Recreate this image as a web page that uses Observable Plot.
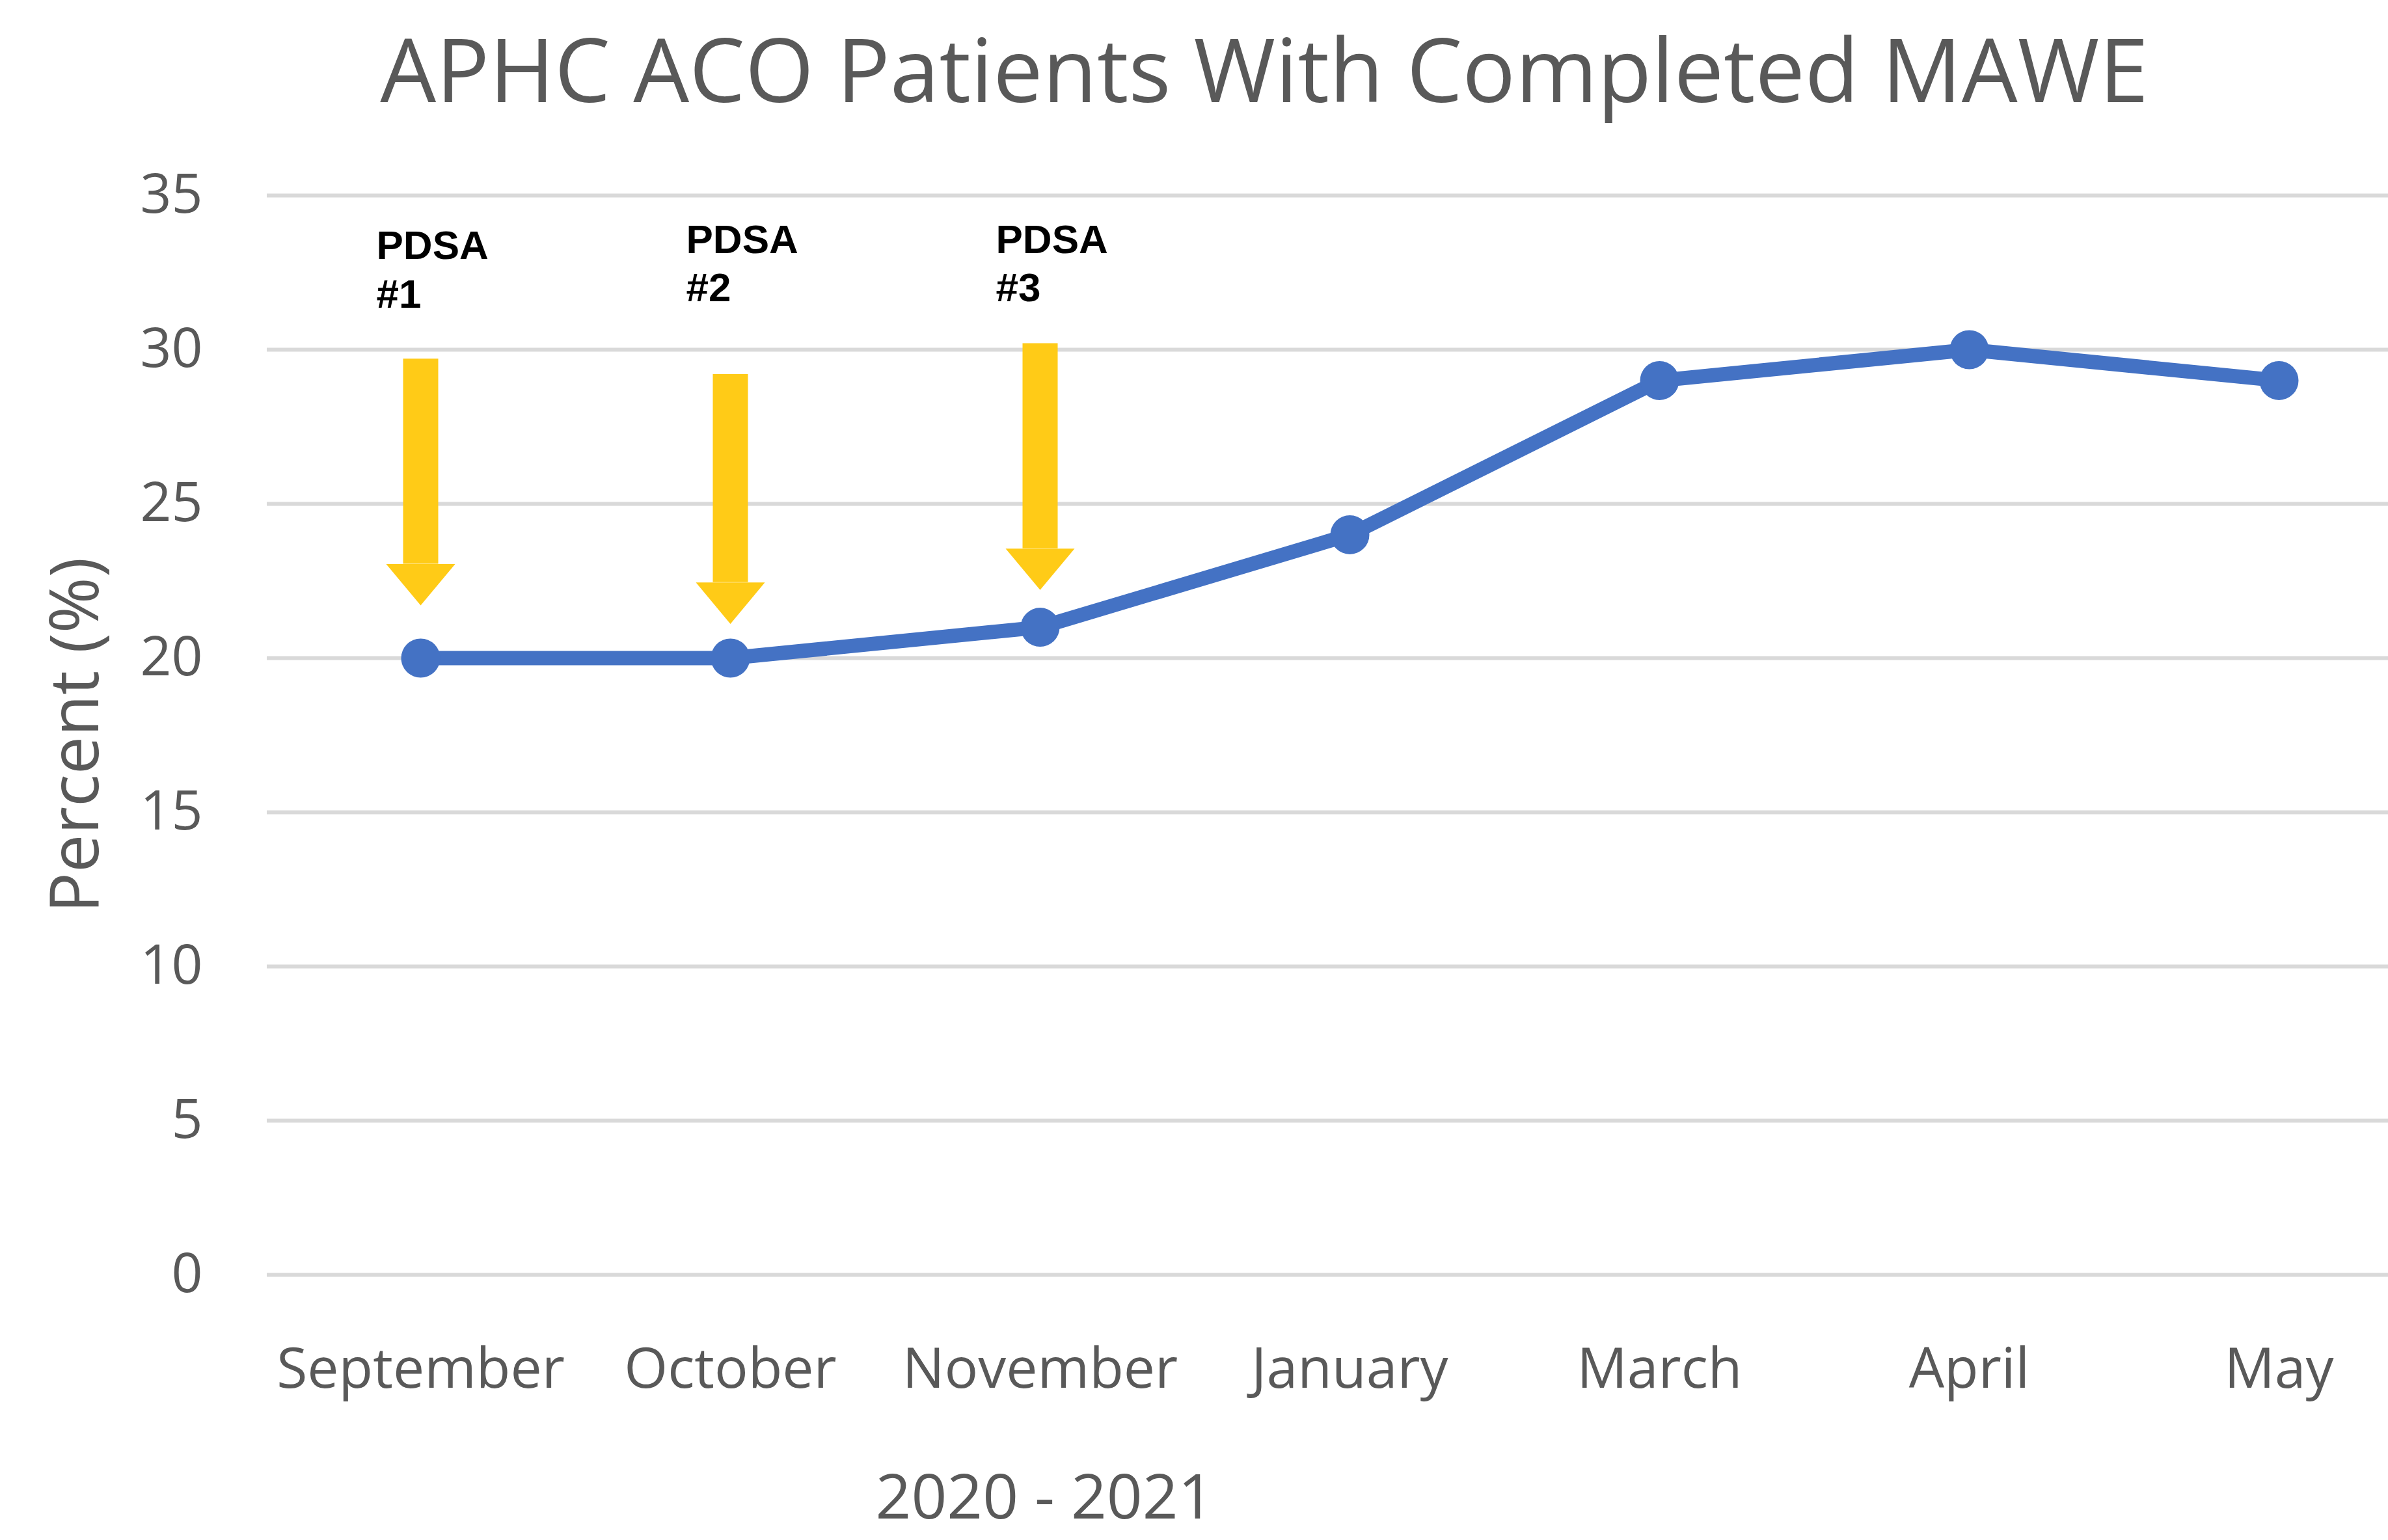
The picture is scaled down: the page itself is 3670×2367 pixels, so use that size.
<!DOCTYPE html>
<html><head><meta charset="utf-8">
<script src="https://cdn.jsdelivr.net/npm/d3@7"></script>
<script src="https://cdn.jsdelivr.net/npm/@observablehq/plot@0.6"></script>
<style>
html,body{margin:0;padding:0;background:#fff;}
#wrap{position:relative;width:3670px;height:2367px;overflow:hidden;background:#fff;}
#title{position:absolute;left:1943px;top:0;transform:translateX(-50%);white-space:nowrap;font-family:"Open Sans";font-size:136px;color:#595959;line-height:210px;}
#chart{position:absolute;left:0;top:200px;}
</style></head><body>
<div id="wrap"><div id="title">APHC ACO Patients With Completed MAWE</div><div id="chart"></div></div>
<script>
const months = ["September", "October", "November", "January", "March", "April", "May"];
const values = [20, 20, 21, 24, 29, 30, 29];
const yTicks = [0, 5, 10, 15, 20, 25, 30, 35];
const pdsaMonths = ["September", "October", "November"];
const pdsaLabels = ["PDSA\n#1", "PDSA\n#2", "PDSA\n#3"];
const arrowTop = [29.7, 29.2, 30.2];
const arrowBase = [23.05, 22.45, 23.55];
const labelTop = [34.05, 34.25, 34.25];
const xLabel = "2020 - 2021";
const xLabelMonth = "November";
const yLabel = "Percent (%)";

const data = months.map((m, i) => ({month: m, value: values[i]}));
const arrows = pdsaMonths.map((m, i) => ({month: m, top: arrowTop[i], base: arrowBase[i], label: pdsaLabels[i], labelY: labelTop[i]}));
const yellow = "#FFCB17";
const headSymbol = {draw(ctx, size) { const r = Math.sqrt(size / Math.PI); ctx.moveTo(-r, 0); ctx.lineTo(r, 0); ctx.lineTo(0, 1.2 * r); ctx.closePath(); }};

const plot = Plot.plot({
  width: 3670, height: 2167,
  marginTop: 100, marginBottom: 408, marginLeft: 410, marginRight: 0,
  style: {fontFamily: "Open Sans", background: "#fff", overflow: "visible"},
  x: {type: "point", domain: months, range: [644, 3504], padding: 0},
  y: {domain: [0, 35]},
  marks: [
    Plot.gridY(yTicks, {stroke: "#d9d9d9", strokeOpacity: 1, strokeWidth: 6}),
    Plot.axisY(yTicks, {tickSize: 0, tickPadding: 99, fontSize: 84, fill: "#595959", label: null}),
    Plot.axisY([], {tickSize: 0, fontSize: 104, fill: "#595959", label: yLabel, labelAnchor: "center", labelOffset: 333, labelArrow: "none"}),
    Plot.axisX({tickSize: 0, tickPadding: 112, fontSize: 86, fill: "#595959", label: null}),
    Plot.ruleX(arrows, {x: "month", y1: "top", y2: "base", stroke: yellow, strokeWidth: 54}),
    Plot.dot(arrows, {x: "month", y: "base", symbol: headSymbol, r: 53, fill: yellow, stroke: "none"}),
    Plot.line(data, {x: "month", y: "value", stroke: "#4472C4", strokeWidth: 22}),
    Plot.dot(data, {x: "month", y: "value", r: 30, fill: "#4472C4", stroke: "none"}),
    Plot.text(arrows, {x: "month", y: "labelY", text: "label", textAnchor: "start", lineAnchor: "top", dx: -68, fontSize: 62, fontWeight: "bold", fontFamily: "Liberation Sans", lineHeight: 1.2, fill: "#000"}),
    Plot.text([xLabel], {x: () => xLabelMonth, frameAnchor: "bottom", dy: 344, dx: 7, text: d => d, fontSize: 96, fill: "#595959", lineAnchor: "middle"})
  ]
});
document.getElementById("chart").appendChild(plot);
</script>
</body></html>
